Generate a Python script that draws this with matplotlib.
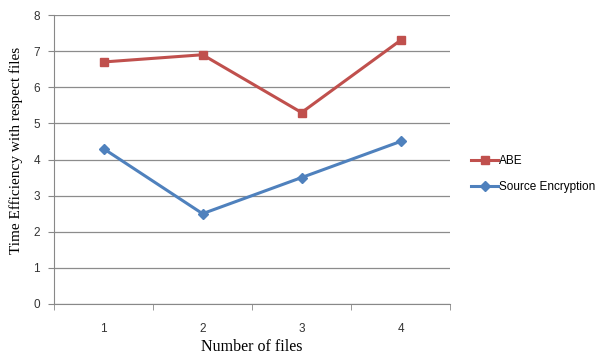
import matplotlib.pyplot as plt

categories = ['1', '2', '3', '4']
abe = [6.7, 6.9, 5.3, 7.3]
source_enc = [4.3, 2.5, 3.5, 4.5]

plt.rcParams['font.family'] = ['Liberation Sans', 'DejaVu Sans']

fig = plt.figure(figsize=(6.01, 3.55), dpi=100)
ax = fig.add_axes([0.0899, 0.1437, 0.659, 0.814])

x = range(1, len(categories) + 1)
ax.plot(x, abe, color='#C0504D', lw=2.2, marker='s', ms=6, label='ABE')
ax.plot(x, source_enc, color='#4F81BD', lw=2.2, marker='D', ms=5, label='Source Encryption')

ax.set_xlim(0.5, 4.5)
ax.set_ylim(0, 8)
ax.set_yticks(range(0, 9))
ax.set_xticks(list(x))
ax.set_xticklabels(categories)
ax.set_xticks([0.5, 1.5, 2.5, 3.5, 4.5], minor=True)
ax.tick_params(axis='x', which='major', length=0, pad=14, labelsize=8.5, colors='#333333')
ax.tick_params(axis='x', which='minor', length=4, color='#888888', direction='out')
ax.tick_params(axis='y', length=4, color='#888888', labelsize=8.5, colors='#333333', pad=6)
ax.grid(axis='y', color='#8c8c8c', lw=0.9)
ax.set_axisbelow(True)
for s in ['top', 'right']:
    ax.spines[s].set_visible(False)
ax.spines['left'].set_color('#888888')
ax.spines['bottom'].set_color('#888888')

ax.set_ylabel('Time Efficiency with respect files', family='Liberation Serif', fontsize=11)
ax.yaxis.set_label_coords(-0.078, 0.53)
ax.set_xlabel('Number of files', family='Liberation Serif', fontsize=11.5, labelpad=2.5)

ax.legend(loc='center left', bbox_to_anchor=(1.035, 0.45), frameon=False, fontsize=8.5,
          handlelength=2.3, handletextpad=0.1, labelspacing=1.2, borderaxespad=0.2)

fig.savefig('out.png', dpi=100)
